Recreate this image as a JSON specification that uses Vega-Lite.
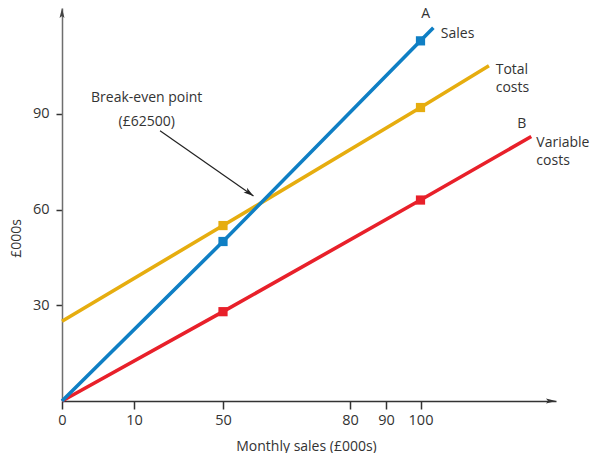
{
  "$schema": "https://vega.github.io/schema/vega-lite/v6.json",
  "width": 494,
  "height": 393,
  "autosize": "none",
  "padding": {"left": 62, "top": 8, "right": 36, "bottom": 52},
  "background": "white",
  "config": {"view": {"stroke": null}, "font": "Open Sans"},
  "datasets": {
    "lines": [
      {"series": "Variable costs", "x": 0, "y": 0},
      {"series": "Variable costs", "x": 50, "y": 28},
      {"series": "Variable costs", "x": 100, "y": 63},
      {"series": "Variable costs", "x": 132.7, "y": 82.9},
      {"series": "Total costs", "x": 0, "y": 25},
      {"series": "Total costs", "x": 50, "y": 55},
      {"series": "Total costs", "x": 100, "y": 92},
      {"series": "Total costs", "x": 120.2, "y": 105.1},
      {"series": "Sales", "x": 0, "y": 0},
      {"series": "Sales", "x": 50, "y": 50},
      {"series": "Sales", "x": 100, "y": 112.9},
      {"series": "Sales", "x": 103.8, "y": 117}
    ],
    "centerLabels": [
      {"label": "A", "x": 101.5, "y": 121.3},
      {"label": "B", "x": 129.9, "y": 86.8},
      {"label": "Break-even point", "x": 15.7, "y": 94.9},
      {"label": "(£62500)", "x": 15.7, "y": 87.6}
    ],
    "leftLabels": [
      {"label": "Sales", "x": 106, "y": 115},
      {"label": "Total", "x": 122.2, "y": 103.8},
      {"label": "costs", "x": 122.2, "y": 98.2},
      {"label": "Variable", "x": 134.2, "y": 80.8},
      {"label": "costs", "x": 134.2, "y": 75.2}
    ],
    "pointer": [{"x": 21.7, "y": 84.7, "x2": 57.2, "y2": 64.3}],
    "pointerHead": [{"x": 57.2, "y": 64.3}],
    "yArrow": [{"x": 0, "y": 123.2}],
    "xArrow": [{"x": 140, "y": 0}]
  },
  "encoding": {
    "x": {
      "field": "x",
      "type": "quantitative",
      "scale": {"domain": [0, 10, 50, 80, 90, 100, 140], "range": [0, 72, 161, 288, 324, 358.5, 494], "nice": false, "zero": false},
      "axis": {
        "values": [0, 10, 50, 80, 90, 100],
        "title": "Monthly sales (£000s)",
        "grid": false,
        "domainColor": "#333333",
        "domainWidth": 1.5,
        "tickColor": "#333333",
        "tickWidth": 1.5,
        "tickSize": 8,
        "labelFontSize": 14.5,
        "labelColor": "#333333",
        "labelPadding": 4,
        "labelFlush": false,
        "labelOverlap": false,
        "titleFontSize": 14,
        "titleFontWeight": "normal",
        "titleColor": "#333333",
        "titleX": 244,
        "titleY": 45,
        "titleAlign": "center",
        "titleBaseline": "middle"
      }
    },
    "y": {
      "field": "y",
      "type": "quantitative",
      "scale": {"domain": [0, 123.2], "nice": false, "zero": false},
      "axis": {
        "values": [30, 60, 90],
        "title": "£000s",
        "grid": false,
        "domainColor": "#6e6e6e",
        "domainWidth": 1.5,
        "tickColor": "#333333",
        "tickWidth": 1.5,
        "tickSize": 6,
        "labelFontSize": 14.5,
        "labelColor": "#333333",
        "labelPadding": 7,
        "titleFontSize": 14,
        "titleFontWeight": "normal",
        "titleColor": "#333333",
        "titleX": -46,
        "titleY": 230,
        "titleAlign": "center",
        "titleBaseline": "middle"
      }
    }
  },
  "layer": [
    {
      "data": {"name": "lines"},
      "mark": {"type": "line", "strokeWidth": 3.6},
      "encoding": {
        "color": {"field": "series", "type": "nominal", "scale": {"domain": ["Variable costs", "Total costs", "Sales"], "range": ["#e8202a", "#e6ad0f", "#0f7fc4"]}, "legend": null}
      }
    },
    {
      "data": {"name": "lines"},
      "transform": [{"filter": {"field": "x", "oneOf": [50, 100]}}],
      "mark": {"type": "point", "shape": "square", "filled": true, "opacity": 1, "size": 85},
      "encoding": {
        "color": {"field": "series", "type": "nominal", "legend": null}
      }
    },
    {
      "data": {"name": "pointer"},
      "mark": {"type": "rule", "color": "#222222", "strokeWidth": 1.2},
      "encoding": {"x2": {"field": "x2"}, "y2": {"field": "y2"}}
    },
    {
      "data": {"name": "pointerHead"},
      "mark": {"type": "point", "shape": "M0,0L-2,-0.6L-1.5,0L-2,0.6Z", "filled": true, "opacity": 1, "color": "#222222", "size": 100, "angle": 35},
      "encoding": {}
    },
    {
      "data": {"name": "yArrow"},
      "mark": {"type": "point", "shape": "M0,0L-0.5,2L0,1.6L0.5,2Z", "filled": true, "opacity": 1, "color": "#444444", "size": 100},
      "encoding": {}
    },
    {
      "data": {"name": "xArrow"},
      "mark": {"type": "point", "shape": "M0,0L-2,-0.5L-1.6,0L-2,0.5Z", "filled": true, "opacity": 1, "color": "#333333", "size": 100},
      "encoding": {}
    },
    {
      "data": {"name": "centerLabels"},
      "mark": {"type": "text", "align": "center", "baseline": "middle", "fontSize": 14, "color": "#333333"},
      "encoding": {"text": {"field": "label"}}
    },
    {
      "data": {"name": "leftLabels"},
      "mark": {"type": "text", "align": "left", "baseline": "middle", "fontSize": 14, "color": "#333333"},
      "encoding": {"text": {"field": "label"}}
    }
  ]
}
